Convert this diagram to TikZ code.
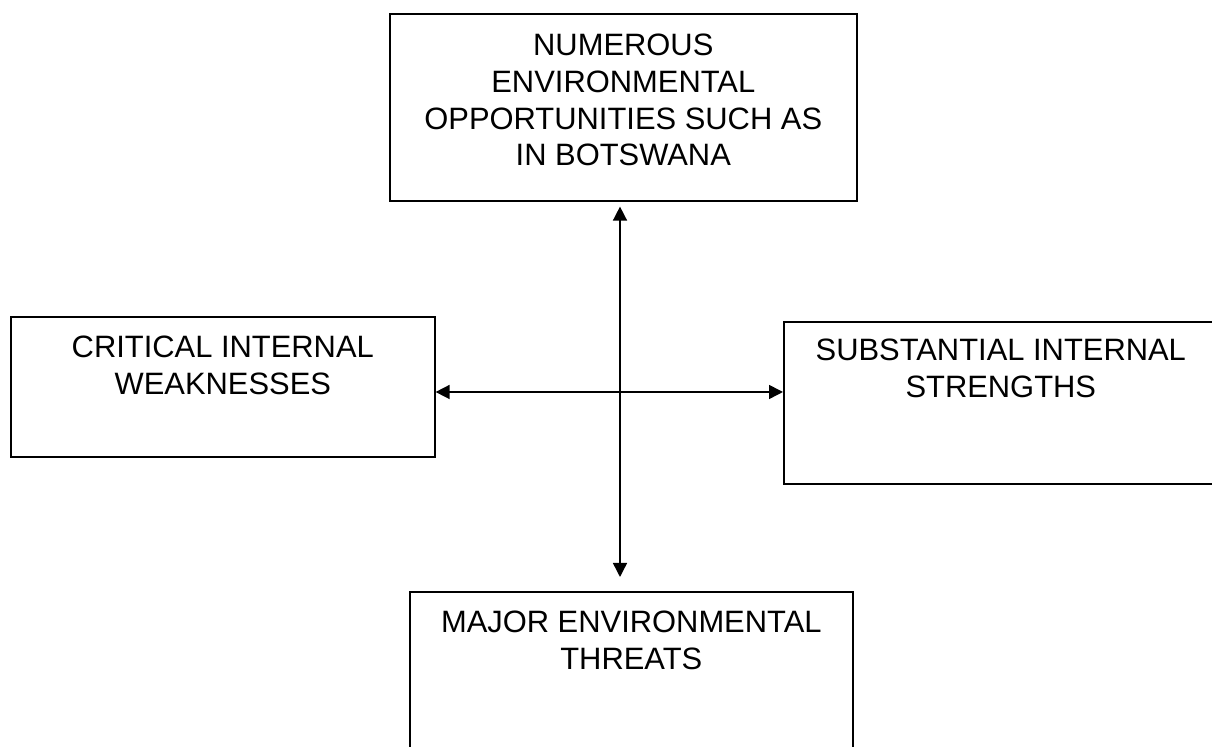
\documentclass[tikz,border=0pt]{standalone}
\usepackage{fontspec}
\newfontfamily\swotfont{Liberation Sans}
\usepackage{tikz}
\usetikzlibrary{positioning,arrows.meta,calc}

\begin{document}
\begin{tikzpicture}[
			x=0.5pt, y=-0.5pt,
			font={\swotfont\fontsize{15.45pt}{18.35pt}\selectfont},
			% Define styles for the boxes and the arrows
			swotbox/.style={rectangle, draw, line width=0.8pt, inner sep=0pt, anchor=north west},
			twoway/.style={{Triangle[length=7pt,width=7pt]}-{Triangle[length=7pt,width=7pt]}, line width=0.75pt, color=black}
			]
			
			\clip (0,0) rectangle (1212,747);
			
			% --- Nodes ---
			\node (opportunities) [swotbox] at (389,13) {\parbox[t][93.5pt][t]{233.5pt}{\centering\rule{0pt}{21pt}NUMEROUS\\ENVIRONMENTAL\\OPPORTUNITIES SUCH AS\\IN BOTSWANA}};
			
			\node (weaknesses) [swotbox] at (10,316) {\parbox[t][70pt][t]{212pt}{\centering\rule{0pt}{20.5pt}CRITICAL INTERNAL\\WEAKNESSES}};
			
			\node (strengths) [swotbox] at (783,321) {\parbox[t][81pt][t]{217pt}{\centering\rule{0pt}{19.5pt}SUBSTANTIAL INTERNAL\\STRENGTHS}};
			
			\node (threats) [swotbox] at (409,591) {\parbox[t][100pt][t]{221.5pt}{\centering\rule{0pt}{20.5pt}MAJOR ENVIRONMENTAL\\THREATS}};
			
			% crossing point of the two arrows
			\coordinate (hub) at (620,392);
			
			% --- Arrows ---
			\draw[twoway, shorten <=2.5pt, shorten >=7pt] (opportunities.south -| hub) -- (threats.north -| hub);
			\draw[twoway] (weaknesses.east |- hub) -- (strengths.west |- hub);
			
		\end{tikzpicture}
\end{document}
